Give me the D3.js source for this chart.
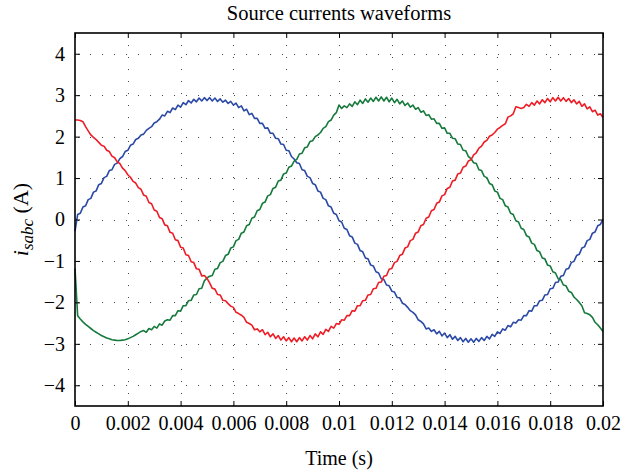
<!DOCTYPE html>
<html>
<head>
<meta charset="utf-8">
<script src="https://cdn.jsdelivr.net/npm/d3@7"></script>
<style>
	body { margin: 0; background: #fff; }
	svg text { font-family: "Liberation Serif", "Times New Roman", serif; fill: #000; }
</style>
</head>
<body>
<script type="text/javascript">

	// sampled source currents, one value every sampleStep seconds from t = 0
	var sampleStep = 0.0001;

	// phase a (blue)
	var ia = [
		-0.28, 0.12, 0.15, 0.30, 0.33, 0.48, 0.51, 0.66, 0.69, 0.84,
		0.87, 1.01, 1.04, 1.18, 1.20, 1.33, 1.36, 1.47, 1.52, 1.64,
		1.67, 1.79, 1.82, 1.93, 1.96, 2.04, 2.06, 2.15, 2.20, 2.24,
		2.33, 2.36, 2.42, 2.52, 2.50, 2.61, 2.58, 2.69, 2.65, 2.76,
		2.71, 2.82, 2.77, 2.87, 2.81, 2.90, 2.84, 2.93, 2.86, 2.94,
		2.87, 2.94, 2.86, 2.93, 2.85, 2.91, 2.83, 2.88, 2.80, 2.85,
		2.76, 2.81, 2.70, 2.74, 2.62, 2.66, 2.53, 2.56, 2.44, 2.44,
		2.32, 2.32, 2.20, 2.21, 2.08, 2.08, 1.96, 1.95, 1.82, 1.81,
		1.67, 1.66, 1.52, 1.46, 1.37, 1.35, 1.20, 1.18, 1.04, 1.01,
		0.87, 0.84, 0.69, 0.66, 0.51, 0.48, 0.33, 0.30, 0.15, 0.12,
		-0.03, -0.06, -0.21, -0.24, -0.39, -0.42, -0.57, -0.60, -0.75, -0.78,
		-0.93, -0.95, -1.10, -1.12, -1.26, -1.29, -1.43, -1.45, -1.58, -1.60,
		-1.73, -1.75, -1.88, -1.89, -2.02, -2.05, -2.12, -2.20, -2.24, -2.30,
		-2.42, -2.46, -2.52, -2.64, -2.62, -2.70, -2.66, -2.76, -2.70, -2.81,
		-2.74, -2.85, -2.78, -2.89, -2.82, -2.92, -2.85, -2.95, -2.87, -2.96,
		-2.88, -2.96, -2.87, -2.94, -2.85, -2.92, -2.82, -2.88, -2.77, -2.82,
		-2.71, -2.75, -2.64, -2.67, -2.56, -2.59, -2.48, -2.50, -2.42, -2.43,
		-2.32, -2.32, -2.20, -2.21, -2.08, -2.08, -1.96, -1.95, -1.82, -1.81,
		-1.67, -1.66, -1.52, -1.51, -1.37, -1.35, -1.20, -1.18, -1.04, -1.01,
		-0.87, -0.84, -0.69, -0.66, -0.51, -0.48, -0.33, -0.30, -0.15, -0.12,
		0.00
	];

	// phase b (green)
	var ib = [
		-1.18, -2.32, -2.40, -2.47, -2.53, -2.58, -2.63, -2.68, -2.72, -2.76,
		-2.80, -2.83, -2.86, -2.88, -2.90, -2.91, -2.92, -2.92, -2.91, -2.90,
		-2.88, -2.85, -2.82, -2.78, -2.74, -2.70, -2.68, -2.72, -2.63, -2.66,
		-2.58, -2.62, -2.52, -2.55, -2.45, -2.42, -2.43, -2.32, -2.32, -2.20,
		-2.21, -2.08, -2.08, -1.96, -1.95, -1.82, -1.81, -1.67, -1.66, -1.48,
		-1.41, -1.37, -1.35, -1.20, -1.18, -1.04, -1.01, -0.87, -0.84, -0.69,
		-0.66, -0.51, -0.48, -0.33, -0.30, -0.15, -0.12, 0.03, 0.06, 0.21,
		0.24, 0.39, 0.42, 0.57, 0.60, 0.75, 0.78, 0.93, 0.95, 1.10,
		1.12, 1.26, 1.29, 1.41, 1.45, 1.58, 1.60, 1.73, 1.75, 1.88,
		1.90, 2.00, 2.04, 2.10, 2.20, 2.24, 2.36, 2.40, 2.52, 2.58,
		2.76, 2.68, 2.74, 2.70, 2.79, 2.73, 2.84, 2.77, 2.88, 2.80,
		2.91, 2.83, 2.93, 2.85, 2.95, 2.86, 2.96, 2.86, 2.95, 2.84,
		2.93, 2.82, 2.90, 2.79, 2.86, 2.75, 2.81, 2.71, 2.76, 2.66,
		2.70, 2.59, 2.62, 2.51, 2.53, 2.42, 2.43, 2.32, 2.32, 2.20,
		2.21, 2.08, 2.08, 1.96, 1.95, 1.82, 1.81, 1.67, 1.66, 1.52,
		1.47, 1.37, 1.35, 1.20, 1.18, 1.04, 1.01, 0.87, 0.84, 0.69,
		0.66, 0.51, 0.48, 0.33, 0.30, 0.15, 0.12, -0.03, -0.06, -0.21,
		-0.24, -0.39, -0.42, -0.57, -0.60, -0.75, -0.78, -0.93, -0.95, -1.10,
		-1.12, -1.26, -1.29, -1.43, -1.45, -1.58, -1.60, -1.73, -1.76, -1.87,
		-1.93, -2.00, -2.08, -2.25, -2.27, -2.30, -2.36, -2.48, -2.54, -2.62,
		-2.70
	];

	// phase c (red)
	var ic = [
		2.40, 2.40, 2.39, 2.36, 2.24, 2.14, 2.04, 1.98, 1.93, 1.86,
		1.79, 1.77, 1.67, 1.64, 1.53, 1.49, 1.39, 1.35, 1.24, 1.18,
		1.08, 1.02, 0.92, 0.88, 0.77, 0.73, 0.59, 0.56, 0.41, 0.38,
		0.23, 0.20, 0.05, 0.02, -0.13, -0.15, -0.31, -0.33, -0.49, -0.51,
		-0.67, -0.69, -0.85, -0.87, -1.02, -1.04, -1.19, -1.20, -1.36, -1.35,
		-1.42, -1.53, -1.66, -1.68, -1.81, -1.82, -1.95, -1.96, -2.03, -2.09,
		-2.12, -2.24, -2.27, -2.31, -2.36, -2.48, -2.51, -2.55, -2.66, -2.64,
		-2.71, -2.66, -2.78, -2.72, -2.83, -2.76, -2.87, -2.80, -2.91, -2.83,
		-2.93, -2.85, -2.95, -2.86, -2.95, -2.85, -2.93, -2.83, -2.91, -2.80,
		-2.88, -2.76, -2.83, -2.71, -2.77, -2.65, -2.70, -2.58, -2.62, -2.51,
		-2.53, -2.42, -2.43, -2.32, -2.32, -2.20, -2.21, -2.08, -2.08, -1.96,
		-1.95, -1.82, -1.81, -1.67, -1.66, -1.52, -1.51, -1.37, -1.35, -1.20,
		-1.18, -1.04, -1.01, -0.87, -0.84, -0.69, -0.66, -0.51, -0.48, -0.33,
		-0.30, -0.15, -0.12, 0.03, 0.06, 0.21, 0.24, 0.39, 0.42, 0.57,
		0.60, 0.75, 0.78, 0.93, 0.95, 1.10, 1.12, 1.26, 1.29, 1.41,
		1.44, 1.56, 1.61, 1.72, 1.77, 1.87, 1.91, 2.01, 2.04, 2.10,
		2.18, 2.22, 2.27, 2.31, 2.47, 2.50, 2.55, 2.72, 2.70, 2.68,
		2.70, 2.78, 2.73, 2.82, 2.76, 2.86, 2.79, 2.89, 2.82, 2.92,
		2.84, 2.94, 2.86, 2.95, 2.86, 2.94, 2.85, 2.92, 2.82, 2.89,
		2.79, 2.85, 2.73, 2.79, 2.67, 2.72, 2.60, 2.64, 2.52, 2.55,
		2.46
	];

	var xTicks = [0, 0.002, 0.004, 0.006, 0.008, 0.01, 0.012, 0.014, 0.016, 0.018, 0.02];
	var yTicks = [-4, -3, -2, -1, 0, 1, 2, 3, 4];

	// plotted in this order, last one on top
	var series = [
		{ values: ia, color: "#2b49a6" },
		{ values: ib, color: "#157a3c" },
		{ values: ic, color: "#ee1d25" }
	];

	var w = 621;
	var h = 471;
	var margin = { top: 33, right: 18, bottom: 65, left: 75 };
	var serif = "'Liberation Serif', 'Times New Roman', serif";

	var svg = d3.select("body")
		.append("svg")
		.attr("width", w)
		.attr("height", h);

	var xScale = d3.scaleLinear()
		.domain([0, 0.02])
		.range([margin.left, w - margin.right]);

	var yScale = d3.scaleLinear()
		.domain([-4.5, 4.5])
		.range([h - margin.bottom, margin.top]);

	// dotted grid
	var grid = svg.append("g")
		.attr("stroke", "#444")
		.attr("stroke-width", 1)
		.attr("stroke-dasharray", "1,11");

	grid.selectAll(".vgrid")
		.data(xTicks.slice(1, -1))
		.enter()
		.append("line")
		.attr("x1", function(d){ return Math.round(xScale(d)) + 0.5; })
		.attr("x2", function(d){ return Math.round(xScale(d)) + 0.5; })
		.attr("y1", yScale(-4.5))
		.attr("y2", yScale(4.5));

	grid.selectAll(".hgrid")
		.data(yTicks)
		.enter()
		.append("line")
		.attr("y1", function(d){ return Math.round(yScale(d)) + 0.5; })
		.attr("y2", function(d){ return Math.round(yScale(d)) + 0.5; })
		.attr("x1", xScale(0) + 3)
		.attr("x2", xScale(0.02));

	// current waveforms
	var line = d3.line()
		.x(function(d, i){ return xScale(i * sampleStep); })
		.y(function(d){ return yScale(d); });

	svg.selectAll(".wave")
		.data(series)
		.enter()
		.append("path")
		.attr("class", "wave")
		.attr("fill", "none")
		.attr("stroke", function(d){ return d.color; })
		.attr("stroke-width", 1.6)
		.attr("stroke-linejoin", "round")
		.attr("d", function(d){ return line(d.values); });

	// axes, ticks pointing inward on all four sides
	var fmtX = function(d){ return d === 0 ? "0" : d3.format("~g")(d); };

	svg.append("g")
		.attr("transform", "translate(0," + yScale(-4.5) + ")")
		.call(d3.axisBottom(xScale).tickValues(xTicks).tickFormat(fmtX).tickSize(-5).tickPadding(10));

	svg.append("g")
		.attr("transform", "translate(0," + yScale(4.5) + ")")
		.call(d3.axisTop(xScale).tickValues(xTicks).tickFormat("").tickSize(-5));

	svg.append("g")
		.attr("transform", "translate(" + xScale(0) + ",0)")
		.call(d3.axisLeft(yScale).tickValues(yTicks).tickFormat(d3.format("d")).tickSize(-5).tickPadding(10));

	svg.append("g")
		.attr("transform", "translate(" + xScale(0.02) + ",0)")
		.call(d3.axisRight(yScale).tickValues(yTicks).tickFormat("").tickSize(-5));

	svg.selectAll(".domain").remove();
	svg.selectAll(".tick line").attr("stroke", "#000");
	svg.selectAll(".tick text")
		.style("font-family", serif)
		.style("font-size", "20px");

	// frame
	svg.append("rect")
		.attr("x", xScale(0))
		.attr("y", yScale(4.5))
		.attr("width", xScale(0.02) - xScale(0))
		.attr("height", yScale(-4.5) - yScale(4.5))
		.attr("fill", "none")
		.attr("stroke", "#000")
		.attr("stroke-width", 1.6);

	// labels
	svg.append("text")
		.attr("x", (xScale(0) + xScale(0.02)) / 2)
		.attr("y", 20)
		.attr("text-anchor", "middle")
		.style("font-family", serif)
		.style("font-size", "20.5px")
		.text("Source currents waveforms");

	svg.append("text")
		.attr("x", (xScale(0) + xScale(0.02)) / 2)
		.attr("y", 465)
		.attr("text-anchor", "middle")
		.style("font-family", serif)
		.style("font-size", "20px")
		.text("Time (s)");

	var ylab = svg.append("text")
		.attr("transform", "translate(28," + yScale(0) + ") rotate(-90)")
		.attr("text-anchor", "middle")
		.style("font-family", serif)
		.style("font-size", "22px");

	ylab.append("tspan").attr("font-style", "italic").text("i");
	ylab.append("tspan").attr("font-style", "italic").style("font-size", "17px").attr("dy", 5).text("sabc");
	ylab.append("tspan").attr("dy", -5).text(" (A)");

</script>
</body>
</html>
